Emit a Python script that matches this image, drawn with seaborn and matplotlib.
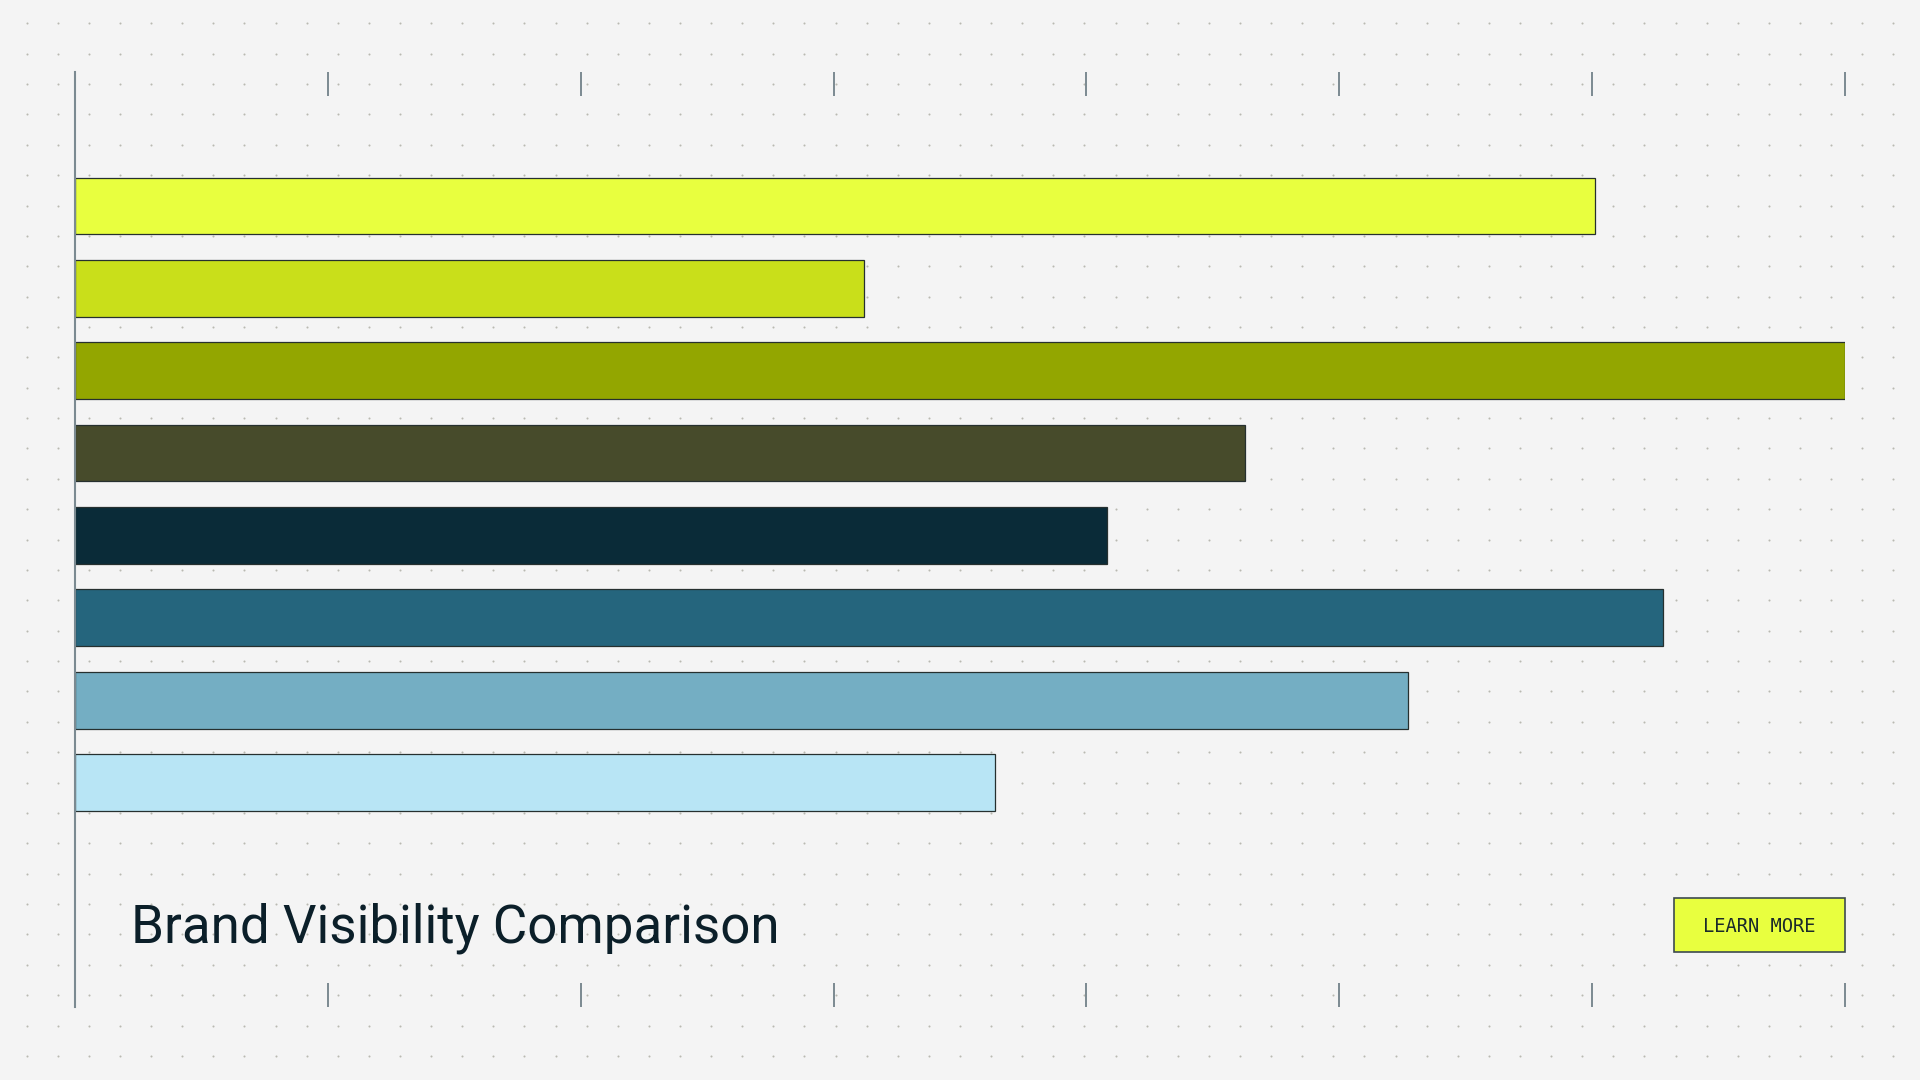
import matplotlib.pyplot as plt
import numpy as np
import pandas as pd
import seaborn as sns
from matplotlib.patches import Rectangle

# chart data
brands = ["Brand A", "Brand B", "Brand C", "Brand D", "Brand E", "Brand F", "Brand G", "Brand H"]
visibility = [85.9, 44.6, 100.0, 66.1, 58.3, 89.7, 75.3, 52.0]
bar_colors = ["#e8ff3f", "#c9df1a", "#93a600", "#474b2b", "#0a2b38", "#25657d", "#74aec3", "#b8e5f5"]
x_ticks = [0, 100 / 7, 200 / 7, 300 / 7, 400 / 7, 500 / 7, 600 / 7, 100]
title = "Brand Visibility Comparison"
button_label = "LEARN MORE"

W, H = 1920, 1080
BG = "#f4f4f4"
INK = "#0b1f29"
AXIS = "#7b8a91"

sns.set_style("white")
plt.rcParams["font.family"] = ["Roboto", "DejaVu Sans"]

fig = plt.figure(figsize=(W / 100, H / 100), dpi=100, facecolor=BG)

# background layer in pixel coordinates: dot grid, title, button
bg = fig.add_axes([0, 0, 1, 1], zorder=0)
bg.set_xlim(0, W)
bg.set_ylim(H, 0)
bg.axis("off")
bg.set_facecolor(BG)
gx, gy = np.meshgrid(np.arange(26.7, W, 31.11), np.arange(23.3, H, 30.37))
bg.scatter(gx.ravel(), gy.ravel(), s=2.2, color="#b9b9b1", linewidths=0, zorder=1)

# main chart
ax = fig.add_axes([75 / W, 1 - 1007 / H, 1770 / W, 935 / H], zorder=2)
ax.set_facecolor("none")
df = pd.DataFrame({"brand": brands, "visibility": visibility})
sns.barplot(
    data=df, x="visibility", y="brand", hue="brand", palette=bar_colors,
    orient="h", width=0.69, saturation=1, edgecolor="#26302f", linewidth=0.9,
    legend=False, ax=ax,
)
ax.set_xlim(0, 100)
ax.set_ylim(9.726, -1.627)
ax.set_xlabel("")
ax.set_ylabel("")
ax.set_yticks([])
ax.set_xticks(x_ticks)
ax.tick_params(axis="x", direction="in", length=17.5, width=1.4, color=AXIS,
               top=True, bottom=True, labelbottom=False, labeltop=False)
for side in ["top", "right", "bottom"]:
    ax.spines[side].set_visible(False)
ax.spines["left"].set_color(AXIS)
ax.spines["left"].set_linewidth(1.5)

# title, fitted to the reference width
t = bg.text(131, 942.7, title, fontsize=50, color=INK, ha="left", va="baseline", zorder=3)
fig.canvas.draw()
w = t.get_window_extent().width
t.set_fontsize(50 * 650 / w)

# button
bg.add_patch(Rectangle((1673.7, 898.3), 171.3, 53.4, facecolor="#e8ff3f",
                       edgecolor="#3d4a4f", linewidth=1.2, zorder=3))
bg.text(1759.5, 932.3, button_label, fontsize=13.5, family=["DejaVu Sans Mono"],
        color="#1b2a2a", ha="center", va="baseline", zorder=4)

fig.savefig("out.png", dpi=100, facecolor=BG)
